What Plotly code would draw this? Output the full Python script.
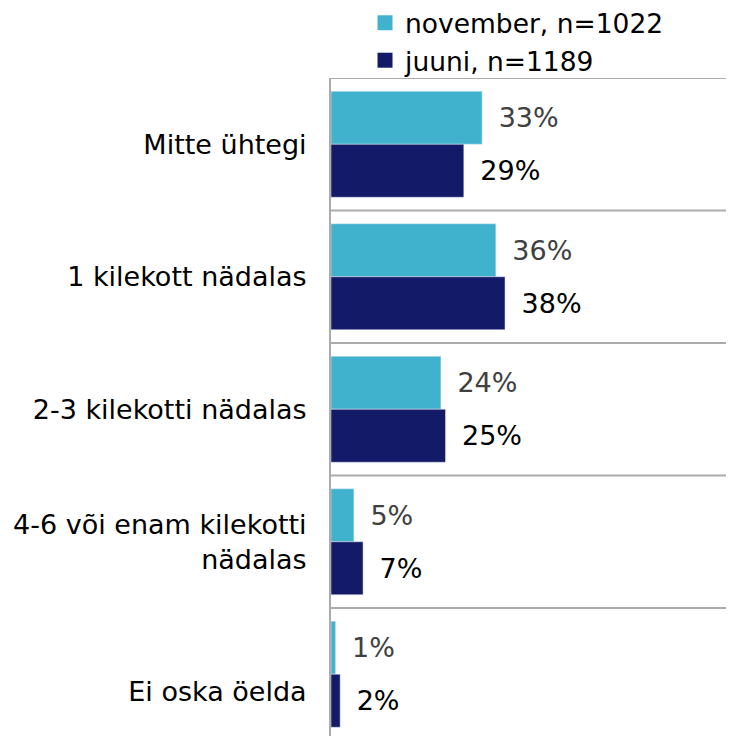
import plotly.graph_objects as go

categories = ["Mitte ühtegi", "1 kilekott nädalas", "2-3 kilekotti nädalas",
              "4-6 või enam kilekotti<br>nädalas", "Ei oska öelda"]
november = [33, 36, 24, 5, 1]
juuni = [29, 38, 25, 7, 2]
series_names = ["november, n=1022", "juuni, n=1189"]
colors = ["#41B2CE", "#131B68"]
label_colors = ["#404040", "#000000"]

FONT = "Verdana, DejaVu Sans, sans-serif"
GRID = "#ABABAB"

fig = go.Figure()

for name, vals, col, lcol in zip(series_names, [november, juuni], colors, label_colors):
    fig.add_trace(go.Bar(
        y=list(range(len(categories))), x=vals, orientation="h",
        name=name, marker_color=col, showlegend=False,
        text=["\u2002%d%%" % v for v in vals], textposition="outside",
        textfont=dict(color=lcol, size=27, family=FONT),
        cliponaxis=False,
    ))

# legend entries with bigger square keys
for name, col in zip(series_names, colors):
    fig.add_trace(go.Scatter(
        x=[None], y=[None], mode="markers", name=name,
        marker=dict(symbol="square", size=15, color=col),
    ))

# separators between categories (and the top border)
for i in range(len(categories)):
    fig.add_shape(type="line", xref="paper", x0=0, x1=1, yref="y",
                  y0=i - 0.5, y1=i - 0.5, line=dict(color=GRID, width=2))

# last label sits a bit lower in the original
ticktext = categories[:-1] + ["<br>" + categories[-1]]

# page body adds an 8px offset, margins compensate for it
fig.update_layout(
    width=734, height=736,
    margin=dict(l=323, r=8, t=70, b=8, autoexpand=False),
    plot_bgcolor="white", paper_bgcolor="white",
    barmode="group", bargap=0.2, bargroupgap=0,
    font=dict(family=FONT, size=27, color="#000000"),
    showlegend=True,
    legend=dict(x=0.4864, xref="container", xanchor="left",
                y=1.12, yref="paper", yanchor="top",
                font=dict(size=26.5), tracegroupgap=0, itemwidth=30,
                bgcolor="rgba(0,0,0,0)"),
    xaxis=dict(range=[0, 88], visible=False),
    yaxis=dict(range=[4.466, -0.5], tickvals=list(range(len(categories))),
               ticktext=ticktext, showgrid=False, zeroline=False,
               showline=True, linecolor=GRID, linewidth=2,
               ticks="", ticklabelstandoff=17, automargin=False),
)

fig.write_html("out.html")
